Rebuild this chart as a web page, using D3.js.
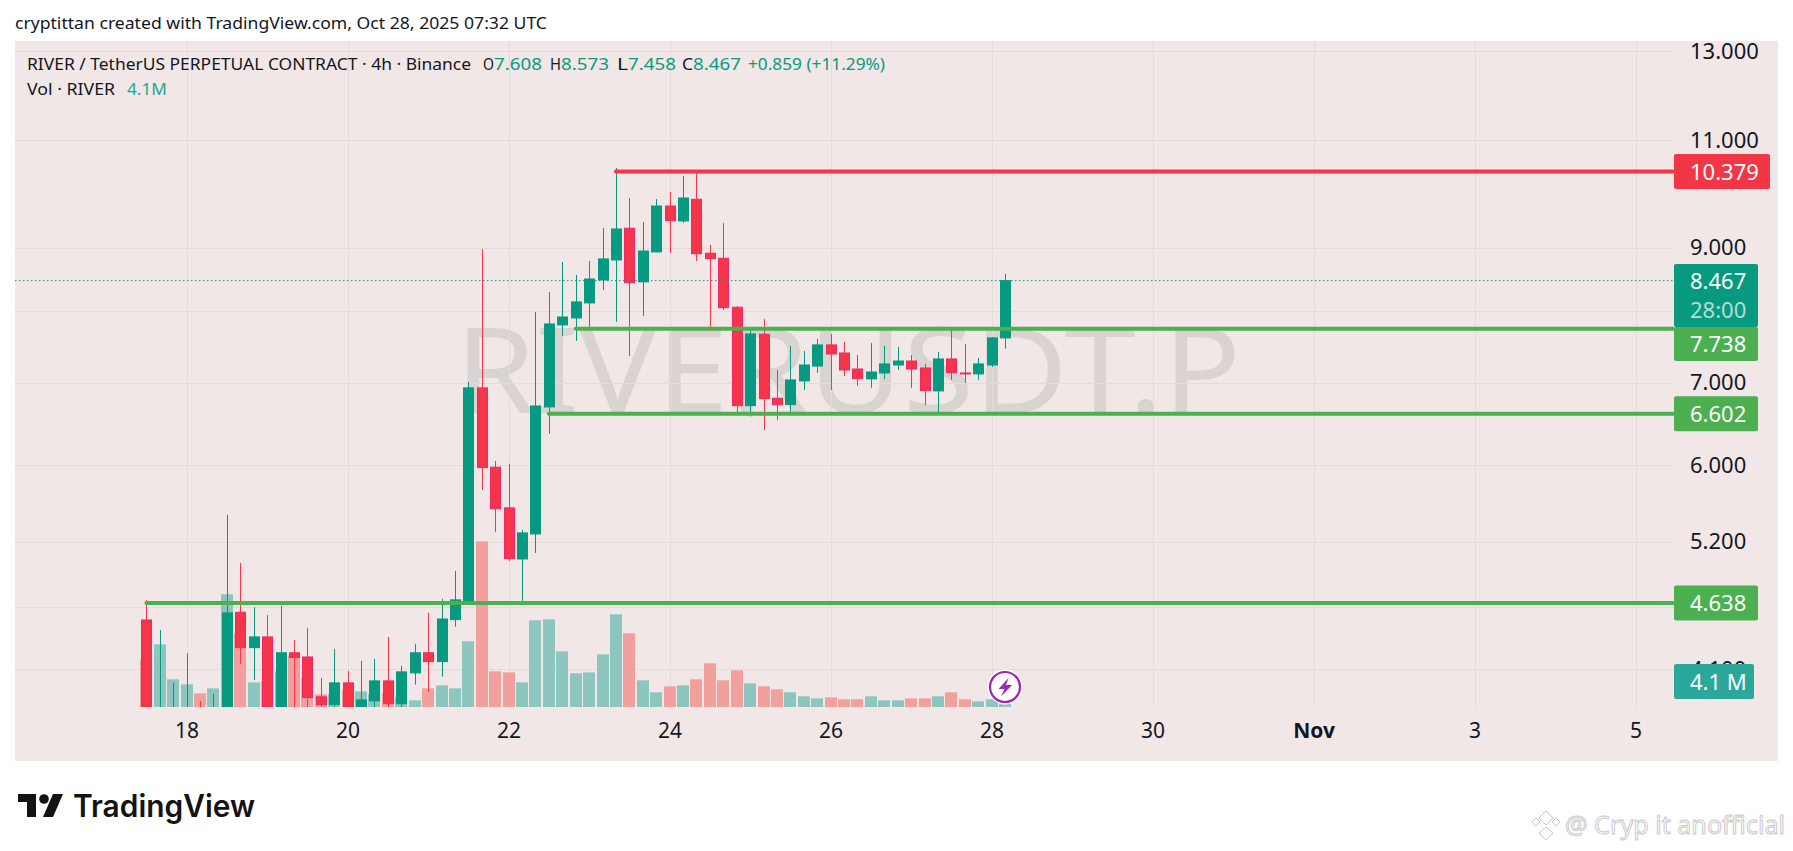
<!DOCTYPE html>
<html>
<head>
<meta charset="utf-8">
<title>RIVERUSDT.P</title>
<script src="https://cdn.jsdelivr.net/npm/d3@7"></script>
<style>
  html, body { margin: 0; padding: 0; background: #fff; }
  svg { display: block; font-family: "Noto Sans", sans-serif; }
</style>
</head>
<body>
<div id="chart"></div>
<script>
// 4h candles, first bar is Oct 17 12:00 UTC
const opens = [4.493,3.65,3.72,3.74,3.78,3.74,3.79,4.558,4.267,4.353,3.78,4.226,4.193,3.892,3.836,3.995,3.78,3.863,4.010,3.843,4.070,4.226,4.157,4.496,4.659,6.930,5.976,5.539,5.035,5.276,6.688,7.795,7.897,8.122,8.477,8.800,9.337,8.448,8.933,9.733,9.465,9.856,8.911,8.828,8.056,6.704,7.661,6.798,6.717,7.021,7.219,7.509,7.397,7.179,7.047,7.126,7.233,7.287,7.193,6.891,7.315,7.126,7.113,7.233,7.608];
const highs = [4.665,4.410,3.997,4.223,3.863,3.914,5.467,4.998,4.601,4.535,4.612,4.329,4.427,4.032,4.257,4.085,4.162,4.178,4.353,4.124,4.297,4.553,4.674,4.924,7.008,8.983,6.047,6.013,5.316,7.986,8.289,8.767,8.557,8.783,9.342,10.449,9.880,9.447,9.861,9.990,10.295,10.379,9.050,9.430,8.076,7.765,7.881,7.166,7.495,7.425,7.593,7.665,7.551,7.369,7.537,7.495,7.481,7.369,7.247,7.411,7.765,7.523,7.328,7.622,8.573];
const lows = [3.60,3.60,3.68,3.70,3.70,3.70,3.75,4.139,4.017,3.72,3.74,3.78,3.78,3.78,3.79,3.72,3.74,3.78,3.78,3.78,3.982,3.928,4.042,4.437,4.621,5.728,5.296,5.017,4.642,5.092,6.360,7.636,7.565,7.751,8.320,7.838,7.356,7.926,8.933,8.916,9.430,8.783,7.708,8.016,6.602,6.569,6.407,6.528,6.606,6.904,7.126,6.904,7.086,6.955,6.930,7.047,7.166,6.930,6.713,6.602,7.034,6.995,7.034,7.206,7.458];
const closes = [3.65,3.72,3.74,3.78,3.74,3.79,4.553,4.267,4.353,3.78,4.226,4.189,3.887,3.836,3.995,3.78,3.870,4.010,3.843,4.078,4.226,4.157,4.501,4.665,6.930,5.972,5.531,5.038,5.286,6.700,7.809,7.911,8.137,8.493,8.817,9.324,8.434,8.949,9.733,9.470,9.880,8.904,8.822,8.050,6.704,7.665,6.793,6.717,7.034,7.233,7.509,7.383,7.166,7.051,7.139,7.247,7.287,7.179,6.895,7.315,7.130,7.113,7.247,7.608,8.467];
// volume in millions
const volumes = [55.7,73.3,32.4,26.5,16,21.8,131.8,86.2,28.8,30,41.7,60.4,33.5,14.8,14.8,19.5,18.3,14.8,16,11.3,7.8,21.8,25.3,21.8,76.8,193.8,41.7,40.5,28.8,101.4,102.5,65.1,39.4,40.5,61.6,108.4,86.2,31.2,17.2,24.2,25.3,32.4,51.1,31.2,42.9,27.7,24.2,20.7,17.2,12.5,10.1,11.3,9,9,12.5,7.8,7.8,10.1,10.1,12.5,17.2,9,6.6,9,4.1];

const priceTicks = [13, 11, 9, 8, 7, 6, 5.2, 4.6, 4.1];
const dayTicks = [[2025,9,18],[2025,9,20],[2025,9,22],[2025,9,24],[2025,9,26],[2025,9,28],[2025,9,30],[2025,10,1],[2025,10,3],[2025,10,5]];
const dayLabels = ['18','20','22','24','26','28','30','Nov','3','5'];

const levelPrices = [10.379, 7.738, 6.602, 4.638];
const levelStartBars = [35, 32, 30, 0];
const levelColors = ['#F23645', '#4CAF50', '#4CAF50', '#4CAF50'];
const lastPrice = 8.467;

const BAR_MS = 4 * 3600 * 1000;
const firstBar = Date.UTC(2025, 9, 17, 12);
const barTime = i => new Date(firstBar + i * BAR_MS);
const dayDates = dayTicks.map(d => new Date(Date.UTC(d[0], d[1], d[2])));

const GREEN = '#089981', RED = '#F5364A';
const BG = '#F0E7E6', GRID = '#E5DBDA', INK = '#131722';

const svg = d3.select('#chart').append('svg')
    .attr('width', 1793)
    .attr('height', 851);

// panel
svg.append('rect').attr('x', 15).attr('y', 41).attr('width', 1763).attr('height', 720).attr('fill', BG);

const paneLeft = 15, paneRight = 1673, paneTop = 41, paneBottom = 707;

const x = d3.scaleUtc().domain([dayDates[0], dayDates[9]]).range([186.6, 1635.6]);
const y = d3.scaleLog().domain([13, 4.1]).range([51, 669]);
const vol = d3.scaleLinear().domain([0, 200]).range([paneBottom, paneBottom - 171]);

svg.append('defs').append('clipPath').attr('id', 'pane')
    .append('rect')
    .attr('x', paneLeft).attr('y', paneTop)
    .attr('width', paneRight - paneLeft).attr('height', paneBottom - paneTop);

// watermark
svg.append('text')
    .attr('x', 455).attr('y', 413)
    .attr('textLength', 786).attr('lengthAdjust', 'spacingAndGlyphs')
    .attr('font-size', 119)
    .attr('fill', '#D9D4D1')
    .text('RIVERUSDT.P');

// grid
svg.append('g').selectAll('line').data(priceTicks).join('line')
    .attr('x1', paneLeft).attr('x2', paneRight)
    .attr('y1', d => Math.round(y(d)) + 0.5).attr('y2', d => Math.round(y(d)) + 0.5)
    .attr('stroke', GRID);
svg.append('g').selectAll('line').data(dayDates).join('line')
    .attr('x1', d => Math.round(x(d)) + 0.5).attr('x2', d => Math.round(x(d)) + 0.5)
    .attr('y1', paneTop).attr('y2', paneBottom)
    .attr('stroke', GRID);

// axes
const yAxis = svg.append('g')
    .attr('transform', 'translate(1690,0)')
    .call(d3.axisRight(y).tickValues(priceTicks).tickFormat(d3.format('.3f')).tickSize(0).tickPadding(0));
yAxis.select('.domain').remove();
yAxis.selectAll('text').attr('font-size', 22).attr('font-family', '"Noto Sans", sans-serif').attr('fill', INK);

const xAxis = svg.append('g')
    .attr('transform', 'translate(0,723)')
    .call(d3.axisBottom(x).tickValues(dayDates).tickFormat((d, i) => dayLabels[i]).tickSize(0).tickPadding(0));
xAxis.select('.domain').remove();
xAxis.selectAll('text')
    .attr('font-size', 21)
    .attr('font-family', '"Noto Sans", sans-serif')
    .attr('fill', INK)
    .attr('font-weight', (d, i) => dayLabels[i] === 'Nov' ? 700 : 400);

const pane = svg.append('g').attr('clip-path', 'url(#pane)');
const bars = d3.range(closes.length);
const isUp = i => closes[i] >= opens[i];

// volume
pane.append('g').selectAll('rect').data(bars).join('rect')
    .attr('x', i => Math.round(x(barTime(i))) - 6)
    .attr('width', 12)
    .attr('y', i => vol(volumes[i]))
    .attr('height', i => vol(0) - vol(volumes[i]))
    .attr('fill', i => isUp(i) ? '#8CC6BF' : '#F1A09D');

// wicks
pane.append('g').selectAll('line').data(bars).join('line')
    .attr('x1', i => Math.round(x(barTime(i))) + 0.5)
    .attr('x2', i => Math.round(x(barTime(i))) + 0.5)
    .attr('y1', i => y(highs[i]))
    .attr('y2', i => y(lows[i]))
    .attr('stroke', i => isUp(i) ? GREEN : RED);

// bodies
pane.append('g').selectAll('rect').data(bars).join('rect')
    .attr('x', i => Math.round(x(barTime(i))) - 4.5)
    .attr('width', 10)
    .attr('y', i => y(Math.max(opens[i], closes[i])))
    .attr('height', i => Math.max(0.5, Math.abs(y(opens[i]) - y(closes[i]))))
    .attr('fill', i => isUp(i) ? GREEN : RED)
    .attr('stroke', i => isUp(i) ? GREEN : '#F0286A')
    .attr('stroke-width', 1);

// last price line
svg.append('line')
    .attr('x1', paneLeft).attr('x2', paneRight)
    .attr('y1', y(lastPrice)).attr('y2', y(lastPrice))
    .attr('stroke', GREEN)
    .attr('stroke-dasharray', '1.5 2.5');

// horizontal levels
svg.append('g').selectAll('line').data(levelPrices).join('line')
    .attr('x1', (d, i) => x(barTime(levelStartBars[i])))
    .attr('x2', paneRight)
    .attr('y1', d => y(d)).attr('y2', d => y(d))
    .attr('stroke', (d, i) => levelColors[i])
    .attr('stroke-width', 4)
    .attr('stroke-linecap', 'round');

// axis labels on the right
function priceBox(top, h, w, color, label) {
    svg.append('rect').attr('x', 1674).attr('y', top).attr('width', w).attr('height', h).attr('rx', 2).attr('fill', color);
    svg.append('text').attr('x', 1690).attr('y', top + h / 2 + 8)
        .attr('font-size', 22).attr('fill', '#fff').text(label);
}

svg.append('rect').attr('x', 1674).attr('y', 264).attr('width', 84).attr('height', 63).attr('rx', 2).attr('fill', GREEN);
svg.append('text').attr('x', 1690).attr('y', 289).attr('font-size', 22).attr('fill', '#fff').text(d3.format('.3f')(lastPrice));
svg.append('text').attr('x', 1690).attr('y', 318).attr('font-size', 22).attr('fill', '#B5DDD6').text('28:00');

priceBox(y(levelPrices[0]) - 17.5, 35, 96, levelColors[0], d3.format('.3f')(levelPrices[0]));
priceBox(327, 34, 84, levelColors[1], d3.format('.3f')(levelPrices[1]));
priceBox(y(levelPrices[2]) - 17.5, 35, 84, levelColors[2], d3.format('.3f')(levelPrices[2]));
priceBox(y(levelPrices[3]) - 17.5, 35, 84, levelColors[3], d3.format('.3f')(levelPrices[3]));
priceBox(664, 35, 80, '#2AA89B', '4.1 M');

// lightning badge on last bar
const badge = svg.append('g').attr('transform', `translate(${x(barTime(64))},687)`);
badge.append('circle').attr('r', 17.5).attr('fill', '#fff');
badge.append('circle').attr('r', 15).attr('fill', '#fff').attr('stroke', '#9C27B0').attr('stroke-width', 2.2);
badge.append('path').attr('d', 'M3.5,-9 L-6.5,2 L-0.5,2 L-4,9.5 L7,-2 L1,-2 Z').attr('fill', '#9C27B0');

// header texts
svg.append('text').attr('x', 15).attr('y', 29).attr('font-size', 16).attr('fill', INK)
    .attr('textLength', 532).attr('lengthAdjust', 'spacingAndGlyphs')
    .text('cryptittan created with TradingView.com, Oct 28, 2025 07:32 UTC');

function headerText(xPos, yPos, width, color, label) {
    svg.append('text').attr('x', xPos).attr('y', yPos)
        .attr('font-size', 17).attr('fill', color)
        .attr('textLength', width).attr('lengthAdjust', 'spacingAndGlyphs')
        .text(label);
}
headerText(27, 70, 444, INK, 'RIVER / TetherUS PERPETUAL CONTRACT · 4h · Binance');
[['O', '7.608', 483], ['H', '8.573', 550], ['L', '7.458', 617], ['C', '8.467', 682]].forEach(o => {
    headerText(o[2], 70, 11, INK, o[0]);
    headerText(o[2] + 11, 70, 48, GREEN, o[1]);
});
headerText(748, 70, 137, GREEN, '+0.859 (+11.29%)');
headerText(27, 95, 88, INK, 'Vol · RIVER');
headerText(127, 95, 40, '#26A69A', '4.1M');

// TradingView logo
const logo = svg.append('g').attr('fill', '#131313');
logo.append('path').attr('d', 'M18,794 H36 V817 H27 V802 H18 Z');
logo.append('circle').attr('cx', 44).attr('cy', 799).attr('r', 4.8);
logo.append('path').attr('d', 'M53,794 H63 L53,817 L43,817 Z');
logo.append('text').attr('x', 73).attr('y', 817)
    .attr('font-family', 'Inter, sans-serif').attr('font-weight', 600).attr('font-size', 31)
    .attr('textLength', 182).attr('lengthAdjust', 'spacingAndGlyphs')
    .text('TradingView');

// faint corner stamp
const stamp = svg.append('g').attr('fill', '#fff').attr('stroke', '#C9C9C9').attr('stroke-width', 1);
stamp.append('path').attr('d', 'M1546,811 L1553,818 L1546,825 L1539,818 Z M1536,818 L1540,822 L1536,826 L1532,822 Z M1556,818 L1560,822 L1556,826 L1552,822 Z M1546,827 L1553,833 L1546,840 L1539,833 Z');
stamp.append('text').attr('x', 1565).attr('y', 834)
    .attr('font-size', 26).attr('textLength', 220).attr('lengthAdjust', 'spacingAndGlyphs')
    .text('@ Cryp it anofficial');
</script>
</body>
</html>
